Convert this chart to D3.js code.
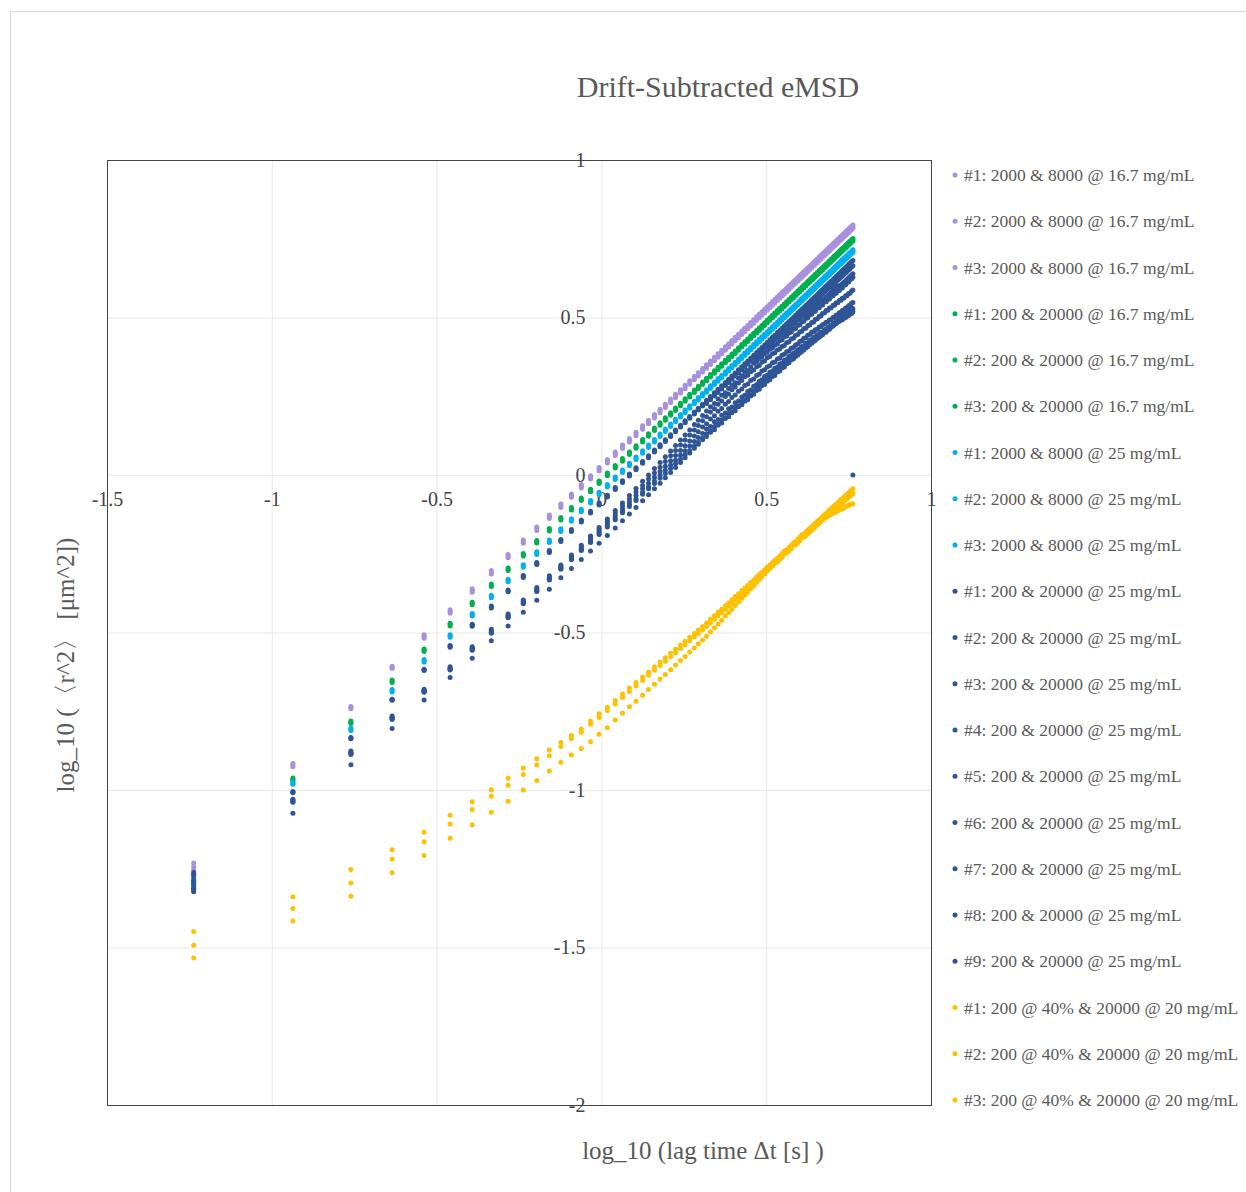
<!DOCTYPE html>
<html>
<head>
<meta charset="utf-8">
<script src="https://cdn.jsdelivr.net/npm/d3@7"></script>
<style>
  body { margin: 0; background: #fff; }
  svg text { font-family: "Liberation Serif", "Times New Roman", serif; }
</style>
</head>
<body>
<svg width="1246" height="1192"></svg>
<script>
// log10 of lag time (s), lag = 1..100 frames
const lagLog = [-1.237,-0.936,-0.760,-0.635,-0.538,-0.459,-0.392,-0.334,-0.283,-0.237,
-0.196,-0.158,-0.123,-0.091,-0.061,-0.033,-0.007,0.018,0.042,0.064,
0.085,0.105,0.125,0.143,0.161,0.178,0.194,0.210,0.225,0.240,
0.254,0.268,0.282,0.294,0.307,0.319,0.331,0.343,0.354,0.365,
0.376,0.386,0.396,0.406,0.416,0.426,0.435,0.444,0.453,0.462,
0.471,0.479,0.487,0.495,0.503,0.511,0.519,0.526,0.534,0.541,
0.548,0.555,0.562,0.569,0.576,0.583,0.589,0.596,0.602,0.608,
0.614,0.620,0.626,0.632,0.638,0.644,0.649,0.655,0.661,0.666,
0.671,0.677,0.682,0.687,0.692,0.697,0.703,0.707,0.712,0.717,
0.722,0.727,0.731,0.736,0.741,0.745,0.750,0.754,0.759,0.763];

// 2000 & 8000 @ 16.7 mg/mL
const hi167_1 = [-1.232,-0.916,-0.735,-0.607,-0.507,-0.428,-0.361,-0.303,-0.252,-0.206,
-0.165,-0.127,-0.092,-0.060,-0.030,-0.002,0.024,0.049,0.073,0.095,
0.116,0.136,0.156,0.174,0.192,0.209,0.225,0.241,0.256,0.271,
0.285,0.299,0.313,0.325,0.338,0.350,0.362,0.374,0.385,0.396,
0.407,0.417,0.427,0.437,0.447,0.457,0.466,0.475,0.484,0.493,
0.502,0.510,0.518,0.526,0.534,0.542,0.550,0.557,0.565,0.572,
0.579,0.586,0.593,0.600,0.607,0.614,0.620,0.627,0.633,0.639,
0.645,0.651,0.657,0.663,0.669,0.675,0.680,0.686,0.692,0.697,
0.702,0.708,0.713,0.718,0.723,0.728,0.734,0.738,0.743,0.748,
0.753,0.758,0.762,0.767,0.772,0.776,0.781,0.785,0.790,0.794];
const hi167_2 = [-1.243,-0.921,-0.738,-0.610,-0.512,-0.433,-0.366,-0.308,-0.257,-0.211,
-0.170,-0.132,-0.097,-0.065,-0.035,-0.007,0.019,0.044,0.068,0.090,
0.111,0.131,0.151,0.169,0.187,0.204,0.220,0.236,0.251,0.266,
0.280,0.294,0.308,0.320,0.333,0.345,0.357,0.369,0.380,0.391,
0.402,0.412,0.422,0.432,0.442,0.452,0.461,0.470,0.479,0.488,
0.497,0.505,0.513,0.521,0.529,0.537,0.545,0.552,0.560,0.567,
0.574,0.581,0.588,0.595,0.602,0.609,0.615,0.622,0.628,0.634,
0.640,0.646,0.652,0.658,0.664,0.670,0.675,0.681,0.687,0.692,
0.697,0.703,0.708,0.713,0.718,0.723,0.729,0.733,0.738,0.743,
0.748,0.753,0.757,0.762,0.767,0.771,0.776,0.780,0.785,0.789];
const hi167_3 = [-1.254,-0.926,-0.742,-0.614,-0.518,-0.439,-0.372,-0.314,-0.263,-0.217,
-0.176,-0.138,-0.103,-0.071,-0.041,-0.013,0.013,0.038,0.062,0.084,
0.105,0.125,0.145,0.163,0.181,0.198,0.214,0.230,0.245,0.260,
0.274,0.288,0.302,0.314,0.327,0.339,0.351,0.363,0.374,0.385,
0.396,0.406,0.416,0.426,0.436,0.446,0.455,0.464,0.473,0.482,
0.491,0.499,0.507,0.515,0.523,0.531,0.539,0.546,0.554,0.561,
0.568,0.575,0.582,0.589,0.596,0.603,0.609,0.616,0.622,0.628,
0.634,0.640,0.646,0.652,0.658,0.664,0.669,0.675,0.681,0.686,
0.691,0.697,0.702,0.707,0.712,0.717,0.723,0.727,0.732,0.737,
0.742,0.747,0.751,0.756,0.761,0.765,0.770,0.774,0.779,0.783];

// 200 & 20000 @ 16.7 mg/mL
const lo167_1 = [-1.300,-0.962,-0.781,-0.651,-0.552,-0.471,-0.404,-0.346,-0.295,-0.249,
-0.208,-0.170,-0.135,-0.103,-0.073,-0.045,-0.019,0.006,0.030,0.052,
0.073,0.093,0.113,0.131,0.149,0.166,0.182,0.198,0.213,0.228,
0.242,0.256,0.270,0.282,0.295,0.307,0.319,0.331,0.342,0.353,
0.364,0.374,0.384,0.394,0.404,0.414,0.423,0.432,0.441,0.450,
0.459,0.467,0.475,0.483,0.491,0.499,0.507,0.514,0.522,0.529,
0.536,0.543,0.550,0.557,0.564,0.571,0.577,0.584,0.590,0.596,
0.602,0.608,0.614,0.620,0.626,0.632,0.637,0.643,0.649,0.654,
0.659,0.665,0.670,0.675,0.680,0.685,0.691,0.695,0.700,0.705,
0.710,0.715,0.719,0.724,0.729,0.733,0.738,0.742,0.747,0.751];
const lo167_2 = [-1.314,-0.966,-0.785,-0.655,-0.556,-0.475,-0.408,-0.350,-0.299,-0.253,
-0.212,-0.174,-0.139,-0.107,-0.077,-0.049,-0.023,0.002,0.026,0.048,
0.069,0.089,0.109,0.127,0.145,0.162,0.178,0.194,0.209,0.224,
0.238,0.252,0.266,0.278,0.291,0.303,0.315,0.327,0.338,0.349,
0.360,0.370,0.380,0.390,0.400,0.410,0.419,0.428,0.437,0.446,
0.455,0.463,0.471,0.479,0.487,0.495,0.503,0.510,0.518,0.525,
0.532,0.539,0.546,0.553,0.560,0.567,0.573,0.580,0.586,0.592,
0.598,0.604,0.610,0.616,0.622,0.628,0.633,0.639,0.645,0.650,
0.655,0.661,0.666,0.671,0.676,0.681,0.687,0.691,0.696,0.701,
0.706,0.711,0.715,0.720,0.725,0.729,0.734,0.738,0.743,0.747];
const lo167_3 = [-1.290,-0.970,-0.789,-0.659,-0.560,-0.479,-0.412,-0.354,-0.303,-0.257,
-0.216,-0.178,-0.143,-0.111,-0.081,-0.053,-0.027,-0.002,0.022,0.044,
0.065,0.085,0.105,0.123,0.141,0.158,0.174,0.190,0.205,0.220,
0.234,0.248,0.262,0.274,0.287,0.299,0.311,0.323,0.334,0.345,
0.356,0.366,0.376,0.386,0.396,0.406,0.415,0.424,0.433,0.442,
0.451,0.459,0.467,0.475,0.483,0.491,0.499,0.506,0.514,0.521,
0.528,0.535,0.542,0.549,0.556,0.563,0.569,0.576,0.582,0.588,
0.594,0.600,0.606,0.612,0.618,0.624,0.629,0.635,0.641,0.646,
0.651,0.657,0.662,0.667,0.672,0.677,0.683,0.687,0.692,0.697,
0.702,0.707,0.711,0.716,0.721,0.725,0.730,0.734,0.739,0.743];

// 2000 & 8000 @ 25 mg/mL
const hi25_1 = [-1.280,-0.975,-0.803,-0.681,-0.586,-0.507,-0.440,-0.382,-0.331,-0.285,
-0.244,-0.206,-0.171,-0.139,-0.109,-0.081,-0.055,-0.030,-0.006,0.016,
0.037,0.057,0.077,0.095,0.113,0.130,0.146,0.162,0.177,0.192,
0.206,0.220,0.234,0.246,0.259,0.271,0.283,0.295,0.306,0.317,
0.328,0.338,0.348,0.358,0.368,0.378,0.387,0.396,0.405,0.414,
0.423,0.431,0.439,0.447,0.455,0.463,0.471,0.478,0.486,0.493,
0.500,0.507,0.514,0.521,0.528,0.535,0.541,0.548,0.554,0.560,
0.566,0.572,0.578,0.584,0.590,0.596,0.601,0.607,0.613,0.618,
0.623,0.629,0.634,0.639,0.644,0.649,0.655,0.659,0.664,0.669,
0.674,0.679,0.683,0.688,0.693,0.697,0.702,0.706,0.711,0.715];
const hi25_2 = [-1.285,-0.978,-0.807,-0.685,-0.590,-0.511,-0.444,-0.386,-0.335,-0.289,
-0.248,-0.210,-0.175,-0.143,-0.113,-0.085,-0.059,-0.034,-0.010,0.012,
0.033,0.053,0.073,0.091,0.109,0.126,0.142,0.158,0.173,0.188,
0.202,0.216,0.230,0.242,0.255,0.267,0.279,0.291,0.302,0.313,
0.324,0.334,0.344,0.354,0.364,0.374,0.383,0.392,0.401,0.410,
0.419,0.427,0.435,0.443,0.451,0.459,0.467,0.474,0.482,0.489,
0.496,0.503,0.510,0.517,0.524,0.531,0.537,0.544,0.550,0.556,
0.562,0.568,0.574,0.580,0.586,0.592,0.597,0.603,0.609,0.614,
0.619,0.625,0.630,0.635,0.640,0.645,0.651,0.655,0.660,0.665,
0.670,0.675,0.679,0.684,0.689,0.693,0.698,0.702,0.707,0.711];
const hi25_3 = [-1.295,-0.982,-0.811,-0.689,-0.594,-0.515,-0.448,-0.390,-0.339,-0.293,
-0.252,-0.214,-0.179,-0.147,-0.117,-0.089,-0.063,-0.038,-0.014,0.008,
0.029,0.049,0.069,0.087,0.105,0.122,0.138,0.154,0.169,0.184,
0.198,0.212,0.226,0.238,0.251,0.263,0.275,0.287,0.298,0.309,
0.320,0.330,0.340,0.350,0.360,0.370,0.379,0.388,0.397,0.406,
0.415,0.423,0.431,0.439,0.447,0.455,0.463,0.470,0.478,0.485,
0.492,0.499,0.506,0.513,0.520,0.527,0.533,0.540,0.546,0.552,
0.558,0.564,0.570,0.576,0.582,0.588,0.593,0.599,0.605,0.610,
0.615,0.621,0.626,0.631,0.636,0.641,0.647,0.651,0.656,0.661,
0.666,0.671,0.675,0.680,0.685,0.689,0.694,0.698,0.703,0.707];

// 200 & 20000 @ 25 mg/mL
const lo25_1 = [-1.262,-1.005,-0.833,-0.712,-0.617,-0.541,-0.474,-0.416,-0.365,-0.319,
-0.278,-0.240,-0.205,-0.173,-0.143,-0.115,-0.089,-0.064,-0.040,-0.018,
0.003,0.023,0.043,0.061,0.079,0.096,0.112,0.128,0.143,0.158,
0.172,0.186,0.200,0.212,0.225,0.237,0.249,0.261,0.272,0.283,
0.294,0.304,0.314,0.324,0.334,0.344,0.353,0.362,0.371,0.380,
0.389,0.397,0.405,0.413,0.421,0.429,0.437,0.444,0.452,0.459,
0.466,0.473,0.480,0.487,0.494,0.501,0.507,0.514,0.520,0.526,
0.532,0.538,0.544,0.550,0.556,0.562,0.567,0.573,0.579,0.584,
0.589,0.595,0.600,0.605,0.610,0.615,0.621,0.625,0.630,0.635,
0.640,0.645,0.649,0.654,0.659,0.663,0.668,0.672,0.677,0.681];
const lo25_2 = [-1.268,-1.007,-0.835,-0.713,-0.619,-0.544,-0.477,-0.419,-0.368,-0.322,
-0.281,-0.243,-0.208,-0.176,-0.146,-0.118,-0.092,-0.067,-0.043,-0.021,
0.000,0.020,0.040,0.058,0.076,0.093,0.109,0.125,0.140,0.155,
0.169,0.183,0.197,0.209,0.222,0.234,0.246,0.258,0.269,0.280,
0.291,0.301,0.311,0.321,0.331,0.339,0.348,0.357,0.366,0.375,
0.384,0.392,0.400,0.408,0.416,0.421,0.429,0.436,0.444,0.451,
0.458,0.465,0.472,0.479,0.486,0.490,0.496,0.503,0.509,0.515,
0.521,0.527,0.533,0.539,0.545,0.548,0.553,0.559,0.565,0.570,
0.575,0.581,0.586,0.591,0.596,0.598,0.604,0.608,0.613,0.618,
0.623,0.628,0.632,0.637,0.642,0.646,0.651,0.655,0.660,0.664];
const lo25_3 = [-1.272,-1.009,-0.837,-0.715,-0.621,-0.547,-0.480,-0.422,-0.371,-0.325,
-0.284,-0.246,-0.211,-0.179,-0.149,-0.121,-0.095,-0.070,-0.046,-0.024,
-0.003,0.017,0.037,0.055,0.073,0.090,0.106,0.122,0.137,0.152,
0.166,0.180,0.194,0.206,0.219,0.227,0.239,0.251,0.262,0.273,
0.284,0.294,0.304,0.314,0.324,0.334,0.343,0.352,0.361,0.370,
0.373,0.381,0.389,0.397,0.405,0.413,0.421,0.428,0.436,0.443,
0.444,0.451,0.458,0.465,0.472,0.479,0.485,0.492,0.498,0.504,
0.504,0.510,0.516,0.522,0.528,0.534,0.539,0.545,0.551,0.556,
0.554,0.560,0.565,0.570,0.575,0.580,0.586,0.590,0.595,0.600,
0.598,0.603,0.607,0.612,0.617,0.621,0.626,0.630,0.635,0.639];
const lo25_4 = [-1.287,-1.029,-0.876,-0.765,-0.680,-0.609,-0.545,-0.490,-0.441,-0.397,
-0.357,-0.320,-0.286,-0.254,-0.223,-0.194,-0.167,-0.140,-0.113,-0.089,
-0.065,-0.043,-0.020,0.000,0.021,0.040,0.058,0.076,0.094,0.111,
0.127,0.143,0.160,0.174,0.189,0.203,0.217,0.227,0.241,0.253,
0.261,0.275,0.286,0.293,0.307,0.315,0.327,0.332,0.343,0.355,
0.360,0.370,0.375,0.385,0.390,0.399,0.403,0.412,0.416,0.426,
0.429,0.438,0.441,0.451,0.454,0.463,0.465,0.475,0.477,0.486,
0.488,0.497,0.499,0.508,0.510,0.519,0.520,0.529,0.531,0.539,
0.540,0.549,0.550,0.558,0.559,0.567,0.569,0.576,0.577,0.585,
0.586,0.594,0.594,0.602,0.604,0.611,0.613,0.620,0.623,0.628];
const lo25_5 = [-1.297,-1.032,-0.880,-0.769,-0.684,-0.613,-0.549,-0.494,-0.445,-0.401,
-0.361,-0.324,-0.290,-0.258,-0.228,-0.199,-0.173,-0.147,-0.121,-0.098,
-0.075,-0.054,-0.033,-0.013,0.006,0.025,0.043,0.061,0.078,0.095,
0.111,0.127,0.143,0.157,0.172,0.185,0.200,0.210,0.225,0.235,
0.249,0.257,0.271,0.279,0.292,0.300,0.312,0.317,0.328,0.333,
0.344,0.348,0.358,0.362,0.372,0.376,0.385,0.388,0.397,0.400,
0.408,0.411,0.420,0.423,0.432,0.435,0.443,0.446,0.454,0.456,
0.464,0.466,0.474,0.476,0.484,0.486,0.494,0.496,0.504,0.505,
0.513,0.515,0.522,0.523,0.530,0.531,0.539,0.539,0.546,0.547,
0.554,0.555,0.561,0.562,0.569,0.569,0.576,0.577,0.584,0.587];
const lo25_6 = [-1.307,-1.035,-0.883,-0.772,-0.687,-0.616,-0.552,-0.498,-0.449,-0.405,
-0.365,-0.328,-0.294,-0.262,-0.233,-0.205,-0.179,-0.154,-0.129,-0.107,
-0.085,-0.065,-0.044,-0.026,-0.007,0.011,0.028,0.045,0.062,0.078,
0.093,0.108,0.124,0.137,0.152,0.163,0.178,0.188,0.202,0.211,
0.225,0.233,0.246,0.254,0.266,0.273,0.284,0.289,0.300,0.305,
0.316,0.320,0.330,0.334,0.343,0.347,0.356,0.359,0.368,0.371,
0.380,0.383,0.391,0.394,0.402,0.405,0.413,0.416,0.424,0.426,
0.434,0.436,0.444,0.446,0.453,0.455,0.461,0.463,0.470,0.471,
0.477,0.479,0.485,0.486,0.492,0.493,0.500,0.501,0.507,0.509,
0.515,0.517,0.522,0.524,0.530,0.531,0.537,0.539,0.545,0.548];
const lo25_7 = [-1.312,-1.037,-0.885,-0.774,-0.688,-0.617,-0.554,-0.500,-0.451,-0.407,
-0.368,-0.331,-0.297,-0.266,-0.237,-0.210,-0.185,-0.160,-0.137,-0.115,
-0.094,-0.075,-0.055,-0.037,-0.019,-0.001,0.015,0.032,0.047,0.063,
0.077,0.092,0.106,0.119,0.132,0.146,0.154,0.169,0.176,0.190,
0.197,0.210,0.216,0.229,0.235,0.248,0.253,0.265,0.270,0.282,
0.287,0.298,0.302,0.313,0.317,0.326,0.330,0.339,0.343,0.352,
0.355,0.364,0.367,0.376,0.379,0.387,0.389,0.398,0.400,0.408,
0.410,0.418,0.420,0.428,0.430,0.437,0.438,0.445,0.447,0.453,
0.454,0.461,0.462,0.468,0.469,0.474,0.476,0.479,0.481,0.486,
0.488,0.492,0.493,0.498,0.500,0.504,0.506,0.510,0.513,0.518];
const lo25_8 = [-1.317,-1.039,-0.887,-0.776,-0.690,-0.619,-0.556,-0.502,-0.453,-0.409,
-0.370,-0.333,-0.299,-0.269,-0.240,-0.214,-0.189,-0.165,-0.142,-0.120,
-0.100,-0.081,-0.061,-0.044,-0.027,-0.010,0.005,0.021,0.036,0.050,
0.064,0.078,0.092,0.104,0.117,0.131,0.139,0.154,0.161,0.175,
0.182,0.195,0.201,0.214,0.220,0.233,0.238,0.250,0.255,0.267,
0.272,0.283,0.287,0.298,0.302,0.311,0.315,0.325,0.329,0.338,
0.341,0.350,0.353,0.362,0.366,0.374,0.376,0.385,0.387,0.395,
0.397,0.405,0.407,0.415,0.418,0.425,0.427,0.434,0.437,0.443,
0.445,0.452,0.454,0.460,0.463,0.469,0.473,0.478,0.481,0.487,
0.490,0.496,0.498,0.504,0.507,0.512,0.515,0.520,0.523,0.528];
const lo25_9 = [-1.323,-1.074,-0.920,-0.805,-0.714,-0.643,-0.582,-0.526,-0.479,-0.436,
-0.398,-0.363,-0.326,-0.297,-0.268,-0.241,-0.217,-0.192,-0.168,-0.145,
-0.124,-0.103,-0.082,-0.063,-0.044,-0.026,-0.009,0.008,0.024,0.040,
0.055,0.070,0.085,0.098,0.112,0.122,0.136,0.144,0.158,0.165,
0.179,0.185,0.198,0.204,0.217,0.223,0.234,0.239,0.251,0.256,
0.268,0.272,0.283,0.287,0.298,0.302,0.313,0.316,0.327,0.330,
0.340,0.343,0.353,0.356,0.366,0.369,0.378,0.381,0.390,0.392,
0.401,0.403,0.412,0.414,0.423,0.425,0.432,0.434,0.443,0.444,
0.452,0.454,0.462,0.463,0.471,0.472,0.481,0.481,0.489,0.490,
0.498,0.499,0.506,0.507,0.515,0.515,0.523,0.523,0.531,0.000];

// 200 @ 40% & 20000 @ 20 mg/mL
const mix20_1 = [-1.449,-1.339,-1.252,-1.190,-1.134,-1.080,-1.037,-0.999,-0.963,-0.930,
-0.901,-0.873,-0.849,-0.827,-0.806,-0.781,-0.758,-0.737,-0.716,-0.695,
-0.676,-0.659,-0.641,-0.625,-0.609,-0.594,-0.580,-0.566,-0.553,-0.540,
-0.528,-0.515,-0.503,-0.492,-0.481,-0.470,-0.458,-0.447,-0.436,-0.426,
-0.415,-0.406,-0.396,-0.386,-0.377,-0.367,-0.359,-0.350,-0.341,-0.333,
-0.324,-0.316,-0.309,-0.301,-0.293,-0.286,-0.278,-0.271,-0.264,-0.257,
-0.250,-0.243,-0.237,-0.230,-0.223,-0.217,-0.211,-0.204,-0.198,-0.193,
-0.187,-0.181,-0.175,-0.170,-0.164,-0.158,-0.153,-0.147,-0.142,-0.137,
-0.132,-0.126,-0.122,-0.117,-0.112,-0.107,-0.101,-0.098,-0.093,-0.088,
-0.083,-0.078,-0.075,-0.070,-0.065,-0.061,-0.056,-0.052,-0.048,-0.044];
const mix20_2 = [-1.493,-1.376,-1.295,-1.220,-1.164,-1.108,-1.062,-1.020,-0.985,-0.951,
-0.921,-0.891,-0.862,-0.837,-0.817,-0.791,-0.770,-0.748,-0.727,-0.706,
-0.687,-0.670,-0.652,-0.636,-0.620,-0.605,-0.591,-0.577,-0.564,-0.551,
-0.539,-0.526,-0.514,-0.503,-0.492,-0.481,-0.469,-0.458,-0.447,-0.437,
-0.426,-0.417,-0.407,-0.397,-0.388,-0.378,-0.370,-0.361,-0.352,-0.344,
-0.335,-0.327,-0.320,-0.312,-0.304,-0.297,-0.289,-0.276,-0.275,-0.268,
-0.261,-0.241,-0.248,-0.241,-0.234,-0.216,-0.222,-0.215,-0.209,-0.190,
-0.198,-0.192,-0.186,-0.181,-0.175,-0.169,-0.164,-0.158,-0.153,-0.148,
-0.143,-0.137,-0.133,-0.128,-0.123,-0.120,-0.114,-0.111,-0.106,-0.101,
-0.096,-0.091,-0.088,-0.083,-0.078,-0.076,-0.071,-0.067,-0.063,-0.059];
const mix20_3 = [-1.533,-1.416,-1.337,-1.263,-1.208,-1.153,-1.110,-1.071,-1.036,-1.000,
-0.970,-0.940,-0.912,-0.889,-0.868,-0.847,-0.823,-0.802,-0.778,-0.756,
-0.736,-0.718,-0.699,-0.681,-0.664,-0.648,-0.633,-0.618,-0.603,-0.589,
-0.576,-0.562,-0.549,-0.536,-0.524,-0.512,-0.498,-0.485,-0.473,-0.461,
-0.448,-0.437,-0.426,-0.414,-0.403,-0.392,-0.382,-0.372,-0.361,-0.352,
-0.341,-0.332,-0.324,-0.314,-0.305,-0.297,-0.288,-0.281,-0.273,-0.265,
-0.258,-0.250,-0.243,-0.236,-0.228,-0.222,-0.215,-0.210,-0.201,-0.199,
-0.191,-0.188,-0.179,-0.176,-0.169,-0.165,-0.157,-0.153,-0.147,-0.144,
-0.140,-0.136,-0.134,-0.131,-0.128,-0.125,-0.121,-0.120,-0.117,-0.114,
-0.111,-0.108,-0.107,-0.104,-0.101,-0.099,-0.096,-0.094,-0.092,-0.091];

const seriesNames = [
  "#1: 2000 & 8000 @ 16.7 mg/mL", "#2: 2000 & 8000 @ 16.7 mg/mL", "#3: 2000 & 8000 @ 16.7 mg/mL",
  "#1: 200 & 20000 @ 16.7 mg/mL", "#2: 200 & 20000 @ 16.7 mg/mL", "#3: 200 & 20000 @ 16.7 mg/mL",
  "#1: 2000 & 8000 @ 25 mg/mL", "#2: 2000 & 8000 @ 25 mg/mL", "#3: 2000 & 8000 @ 25 mg/mL",
  "#1: 200 & 20000 @ 25 mg/mL", "#2: 200 & 20000 @ 25 mg/mL", "#3: 200 & 20000 @ 25 mg/mL",
  "#4: 200 & 20000 @ 25 mg/mL", "#5: 200 & 20000 @ 25 mg/mL", "#6: 200 & 20000 @ 25 mg/mL",
  "#7: 200 & 20000 @ 25 mg/mL", "#8: 200 & 20000 @ 25 mg/mL", "#9: 200 & 20000 @ 25 mg/mL",
  "#1: 200 @ 40% & 20000 @ 20 mg/mL", "#2: 200 @ 40% & 20000 @ 20 mg/mL", "#3: 200 @ 40% & 20000 @ 20 mg/mL"
];
const seriesValues = [hi167_1, hi167_2, hi167_3, lo167_1, lo167_2, lo167_3,
    hi25_1, hi25_2, hi25_3, lo25_1, lo25_2, lo25_3, lo25_4, lo25_5, lo25_6,
    lo25_7, lo25_8, lo25_9, mix20_1, mix20_2, mix20_3];
const groupColors = ["#a890e0", "#00b050", "#00b0f0", "#2f5597", "#ffc000"];
const seriesGroup = [0,0,0, 1,1,1, 2,2,2, 3,3,3,3,3,3,3,3,3, 4,4,4];

const xTicks = [-1.5, -1, -0.5, 0, 0.5, 1];
const yTicks = [1, 0.5, 0, -0.5, -1, -1.5, -2];

// Layout
const svg = d3.select("svg"), width = +svg.attr("width"),
    height = +svg.attr("height");
const margin = {top: 160, right: 315, bottom: 87, left: 107};
const plotW = width - margin.left - margin.right,
    plotH = height - margin.top - margin.bottom;

const x = d3.scaleLinear().domain([-1.5, 1]).range([margin.left, margin.left + plotW]);
const y = d3.scaleLinear().domain([-2, 1]).range([margin.top + plotH, margin.top]);

drawPageFrame();
drawGrid();
drawAxes();
drawPoints();
drawPlotFrame();
drawTitles();
drawLegend();

/////////////HELPERS//////////////////

function drawPageFrame() {
    svg.append("rect")
        .attr("x", 10.5).attr("y", 11.5)
        .attr("width", width).attr("height", height)
        .attr("fill", "none")
        .attr("stroke", "#d6d6d6");
}

function drawGrid() {
    const gx = svg.append("g")
        .attr("transform", `translate(0,${margin.top + plotH})`)
        .call(d3.axisBottom(x).tickValues(xTicks.slice(1, -1)).tickSize(-plotH).tickFormat(""));
    const gy = svg.append("g")
        .attr("transform", `translate(${margin.left},0)`)
        .call(d3.axisLeft(y).tickValues(yTicks.slice(1, -1)).tickSize(-plotW).tickFormat(""));
    [gx, gy].forEach(g => {
        g.select(".domain").remove();
        g.selectAll("line").attr("stroke", "#e8e8e8");
    });
}

function drawAxes() {
    const ax = svg.append("g")
        .attr("transform", `translate(0,${y(0)})`)
        .call(d3.axisBottom(x).tickValues(xTicks).tickSize(0).tickPadding(17)
            .tickFormat(d => String(d)));
    const ay = svg.append("g")
        .attr("transform", `translate(${x(0)},0)`)
        .call(d3.axisLeft(y).tickValues(yTicks).tickSize(0).tickPadding(16)
            .tickFormat(d => String(d)));
    [ax, ay].forEach(g => {
        g.select(".domain").remove();
        g.attr("font-family", null).attr("font-size", 20).attr("color", "#444");
    });
}

function drawPoints() {
    seriesValues.forEach((values, i) => {
        svg.append("g")
            .attr("fill", groupColors[seriesGroup[i]])
            .selectAll("circle")
            .data(values.map((v, j) => [lagLog[j], v]))
            .join("circle")
            .attr("cx", d => x(d[0]))
            .attr("cy", d => y(d[1]))
            .attr("r", 2.5);
    });
}

function drawPlotFrame() {
    svg.append("rect")
        .attr("x", margin.left + 0.5).attr("y", margin.top + 0.5)
        .attr("width", plotW).attr("height", plotH)
        .attr("fill", "none")
        .attr("stroke", "#444");
}

function drawTitles() {
    svg.append("text")
        .attr("x", 718).attr("y", 97)
        .attr("text-anchor", "middle")
        .style("font-size", "30px")
        .style("fill", "#595959")
        .text("Drift-Subtracted eMSD");
    svg.append("text")
        .attr("x", 703).attr("y", 1159)
        .attr("text-anchor", "middle")
        .style("font-size", "25px")
        .style("fill", "#595959")
        .text("log_10 (lag time \u0394t [s] )");
    svg.append("text")
        .attr("transform", "translate(74,665) rotate(-90)")
        .attr("text-anchor", "middle")
        .style("font-size", "25px")
        .style("fill", "#595959")
        .text("log_10 (\u3008r^2\u3009 [\u03bcm^2])");
}

function drawLegend() {
    const top = 175, step = 46.25;
    const item = svg.append("g")
        .selectAll("g")
        .data(seriesNames)
        .join("g")
        .attr("transform", (d, i) => `translate(955,${top + i * step})`);
    item.append("circle")
        .attr("r", 2.5)
        .attr("fill", (d, i) => groupColors[seriesGroup[i]]);
    item.append("text")
        .attr("x", 9)
        .attr("dy", "0.35em")
        .style("font-size", "17.5px")
        .style("fill", "#595959")
        .text(d => d);
}
</script>
</body>
</html>
